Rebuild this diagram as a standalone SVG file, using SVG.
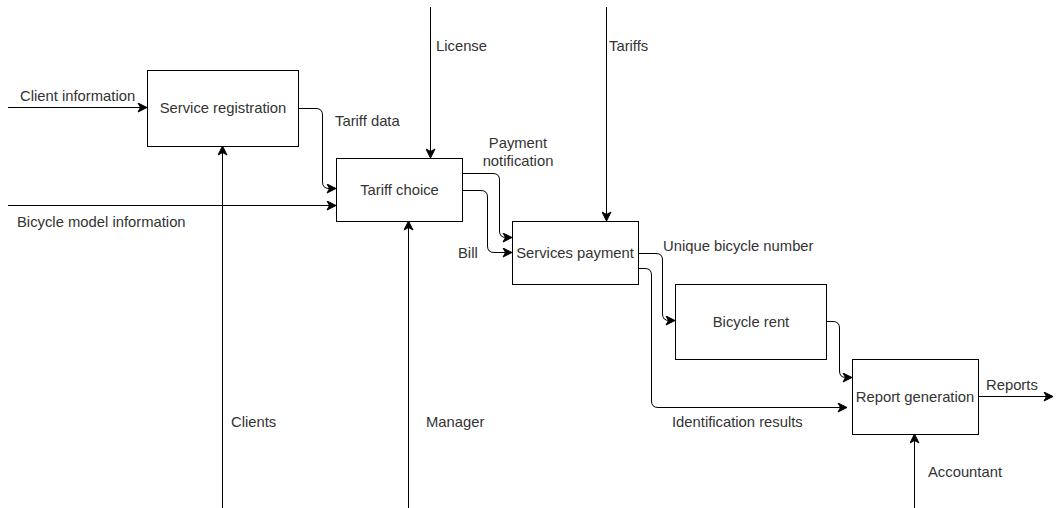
<svg xmlns="http://www.w3.org/2000/svg" width="1057" height="508" viewBox="0 0 1057 508">
  <style>
    .box { fill: #ffffff; stroke: #000000; stroke-width: 1; }
    .edge { fill: none; stroke: #000000; stroke-width: 1; marker-end: url(#arrow); }
    .lbl { font-family: "Liberation Sans", Arial, sans-serif; font-size: 14.8px; fill: #333333; }
    .mid { text-anchor: middle; }
  </style>
  <defs>
    <marker id="arrow" markerUnits="userSpaceOnUse" markerWidth="11" markerHeight="10" refX="10" refY="5" orient="auto">
      <path d="M1,0.5 L10,5 L1,9.5 L3.5,5 Z" fill="#000000" stroke="#000000" stroke-width="1" stroke-linejoin="miter"/>
    </marker>
  </defs>
  <rect width="1057" height="508" fill="#ffffff"/>

  <!-- connectors -->
  <g id="connectors">
    <path class="edge" d="M8,107.5 H147"/>
    <path class="edge" d="M8,205.5 H336"/>
    <path class="edge" d="M298,108.5 H316 Q322.5,108.5 322.5,115 V182 Q322.5,188.5 329,188.5 H336"/>
    <path class="edge" d="M430.5,7 V158"/>
    <path class="edge" d="M606.5,7 V221"/>
    <path class="edge" d="M222.5,508 V146"/>
    <path class="edge" d="M408.5,508 V221"/>
    <path class="edge" d="M914.5,508 V434"/>
    <path class="edge" d="M462,173.5 H493 Q499.5,173.5 499.5,180 V231 Q499.5,237.5 506,237.5 H512"/>
    <path class="edge" d="M462,190.5 H481 Q487.5,190.5 487.5,197 V246 Q487.5,252.5 494,252.5 H512"/>
    <path class="edge" d="M638,253.5 H656 Q662.5,253.5 662.5,260 V314 Q662.5,320.5 669,320.5 H675"/>
    <path class="edge" d="M638,268.5 H645 Q651.5,268.5 651.5,275 V401 Q651.5,407.5 658,407.5 H847"/>
    <path class="edge" d="M827,321.5 H833 Q839.5,321.5 839.5,328 V371 Q839.5,377.5 846,377.5 H852"/>
    <path class="edge" d="M978,396.5 H1053"/>
  </g>

  <!-- connector labels -->
  <g id="labels">
    <text class="lbl" x="20" y="101">Client information</text>
    <text class="lbl" x="17" y="227">Bicycle model information</text>
    <text class="lbl" x="335" y="126">Tariff data</text>
    <text class="lbl" x="436" y="51">License</text>
    <text class="lbl" x="609" y="51">Tariffs</text>
    <text class="lbl mid" x="518" y="148">Payment</text>
    <text class="lbl mid" x="518" y="166">notification</text>
    <text class="lbl" x="458" y="258">Bill</text>
    <text class="lbl" x="663" y="251">Unique bicycle number</text>
    <text class="lbl" x="672" y="427">Identification results</text>
    <text class="lbl" x="986" y="390">Reports</text>
    <text class="lbl" x="231" y="427">Clients</text>
    <text class="lbl" x="426" y="427">Manager</text>
    <text class="lbl" x="928" y="477">Accountant</text>
  </g>

  <!-- nodes -->
  <g id="service-registration">
    <rect class="box" x="147.5" y="70.5" width="151" height="76"/>
    <text class="lbl mid" x="223" y="113">Service registration</text>
  </g>
  <g id="tariff-choice">
    <rect class="box" x="336.5" y="158.5" width="126" height="63"/>
    <text class="lbl mid" x="399.5" y="195">Tariff choice</text>
  </g>
  <g id="services-payment">
    <rect class="box" x="512.5" y="221.5" width="126" height="63"/>
    <text class="lbl mid" x="575" y="258">Services payment</text>
  </g>
  <g id="bicycle-rent">
    <rect class="box" x="675.5" y="284.5" width="151" height="75"/>
    <text class="lbl mid" x="751" y="327">Bicycle rent</text>
  </g>
  <g id="report-generation">
    <rect class="box" x="852.5" y="359.5" width="126" height="75"/>
    <text class="lbl mid" x="915" y="402">Report generation</text>
  </g>
</svg>
